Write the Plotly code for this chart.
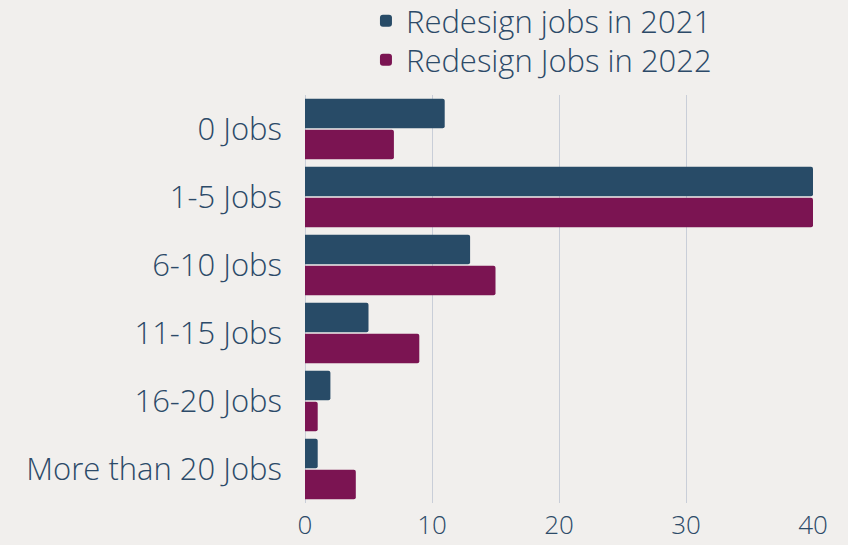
import plotly.graph_objects as go

categories = ["0 Jobs", "1-5 Jobs", "6-10 Jobs", "11-15 Jobs", "16-20 Jobs", "More than 20 Jobs"]
jobs_2021 = [11, 40, 13, 5, 2, 1]
jobs_2022 = [7, 40, 15, 9, 1, 4]
x_ticks = [0, 10, 20, 30, 40]

blue = "#284B67"
purple = "#7B1452"
text_color = "#2C4A68"
bg = "#F1EFED"

fig = go.Figure()
fig.add_trace(go.Bar(y=categories, x=jobs_2021, orientation="h", name="Redesign jobs in 2021",
                     marker=dict(color=blue, line=dict(width=0)), legend="legend"))
fig.add_trace(go.Bar(y=categories, x=jobs_2022, orientation="h", name="Redesign Jobs in 2022",
                     marker=dict(color=purple, line=dict(width=0)), legend="legend2"))

legend_style = dict(xref="paper", yref="container", xanchor="left", yanchor="middle",
                    bgcolor="rgba(0,0,0,0)", font=dict(size=31, weight=300), itemwidth=30)

fig.update_layout(
    width=848, height=545,
    paper_bgcolor=bg, plot_bgcolor=bg,
    margin=dict(l=305, r=35, t=95, b=42, autoexpand=False),
    font=dict(family="Open Sans, sans-serif", color=text_color, size=26, weight=300),
    barmode="group", bargap=0.09, bargroupgap=0.05, barcornerradius=2,
    showlegend=True,
    legend=dict(x=0.12, y=1 - 21 / 545, **legend_style),
    legend2=dict(x=0.12, y=1 - 60 / 545, **legend_style),
    xaxis=dict(range=[0, 40], tickvals=x_ticks, showgrid=True, gridcolor="#C9CED8", gridwidth=1,
               zeroline=True, zerolinecolor="#C9CED8", zerolinewidth=1, showline=False,
               tickfont=dict(size=26, weight=300), ticks="", ticklabelstandoff=4),
    yaxis=dict(autorange="reversed", showgrid=False, ticks="", ticklabelstandoff=22,
               tickfont=dict(size=31, weight=300)),
)

fig.write_html("out.html")
